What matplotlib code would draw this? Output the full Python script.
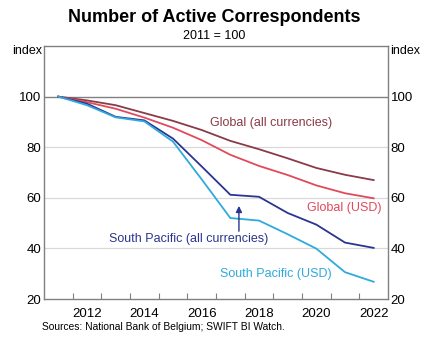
import matplotlib
matplotlib.use("Agg")
import matplotlib.pyplot as plt
import numpy as np

plt.rcParams['font.family'] = ['Liberation Sans', 'DejaVu Sans']

years = [2011, 2012, 2013, 2014, 2015, 2016, 2017, 2018, 2019, 2020, 2021, 2022]
global_all = [100, 98.5, 96.6, 93.5, 90.4, 86.8, 82.5, 79.2, 75.6, 71.8, 69.1, 67.0]
global_usd = [100, 97.8, 95.2, 91.7, 87.7, 82.8, 77.0, 72.6, 69.0, 64.9, 61.8, 59.8]
sp_all = [100, 97.2, 92.0, 90.6, 83.4, 72.4, 61.2, 60.4, 54.0, 49.4, 42.3, 40.2]
sp_usd = [100, 96.6, 91.8, 90.2, 82.2, 67.3, 52.0, 51.0, 45.6, 39.9, 30.6, 26.8]

yticks = [20, 40, 60, 80, 100]
xlabels = [2012, 2014, 2016, 2018, 2020, 2022]

c_gall = '#8B3A48'
c_gusd = '#E04A5C'
c_spall = '#2B3590'
c_spusd = '#2EAADC'

fig = plt.figure(figsize=(4.29, 3.45), dpi=100)
ax = fig.add_axes([44/429, 1-299/345, (388-44)/429, (299-46)/345])

x = np.array(years) + 0.5
ax.plot(x, global_all, color=c_gall, lw=1.3)
ax.plot(x, global_usd, color=c_gusd, lw=1.3)
ax.plot(x, sp_all, color=c_spall, lw=1.3)
ax.plot(x, sp_usd, color=c_spusd, lw=1.3)

ax.set_xlim(2011, 2023)
ax.set_ylim(20, 120)

for v in [40, 60, 80]:
    ax.axhline(v, color='#D9D9D9', lw=0.9, zorder=0)
ax.axhline(100, color='#808080', lw=1.0, zorder=0)

ax.set_yticks(yticks)
ax.tick_params(axis='y', which='both', length=0, labelsize=9.5, pad=2,
               labelright=True, right=False, left=False)
ax.set_xticks(np.arange(2012, 2023), minor=False)
ax.set_xticks([v + 0.5 for v in xlabels], minor=True)
ax.set_xticklabels([])
ax.set_xticklabels([str(v) for v in xlabels], minor=True)
ax.tick_params(axis='x', which='major', direction='in', length=4, color='#808080', width=0.8)
ax.tick_params(axis='x', which='minor', length=0, labelsize=9.5, pad=6.5)

for s in ax.spines.values():
    s.set_color('#808080')
    s.set_linewidth(1.0)

fig.text(0.5, 1-17/345, 'Number of Active Correspondents', ha='center', va='center',
         fontsize=13, fontweight='bold')
fig.text(0.5, 1-36/345, '2011 = 100', ha='center', va='center', fontsize=9)
fig.text(42/429, 1-51/345, 'index', ha='right', va='center', fontsize=9)
fig.text(390/429, 1-51/345, 'index', ha='left', va='center', fontsize=9)
fig.text(42/429, 1-327.5/345, 'Sources: National Bank of Belgium; SWIFT BI Watch.',
         ha='left', va='center', fontsize=7.4)

ax.text(2018.92, 89.7, 'Global (all currencies)', color=c_gall, ha='center', va='center', fontsize=9)
ax.text(2022.78, 56.0, 'Global (USD)', color=c_gusd, ha='right', va='center', fontsize=9)
ax.text(2016.03, 43.7, 'South Pacific (all currencies)', color=c_spall, ha='center', va='center', fontsize=9)
ax.text(2019.09, 29.9, 'South Pacific (USD)', color=c_spusd, ha='center', va='center', fontsize=9)

ax.annotate('', xy=(2017.8, 57.9), xytext=(2017.8, 45.7),
            arrowprops=dict(arrowstyle='-|>', color=c_spall, lw=1.0, mutation_scale=9))

fig.savefig('out.png', dpi=100)
